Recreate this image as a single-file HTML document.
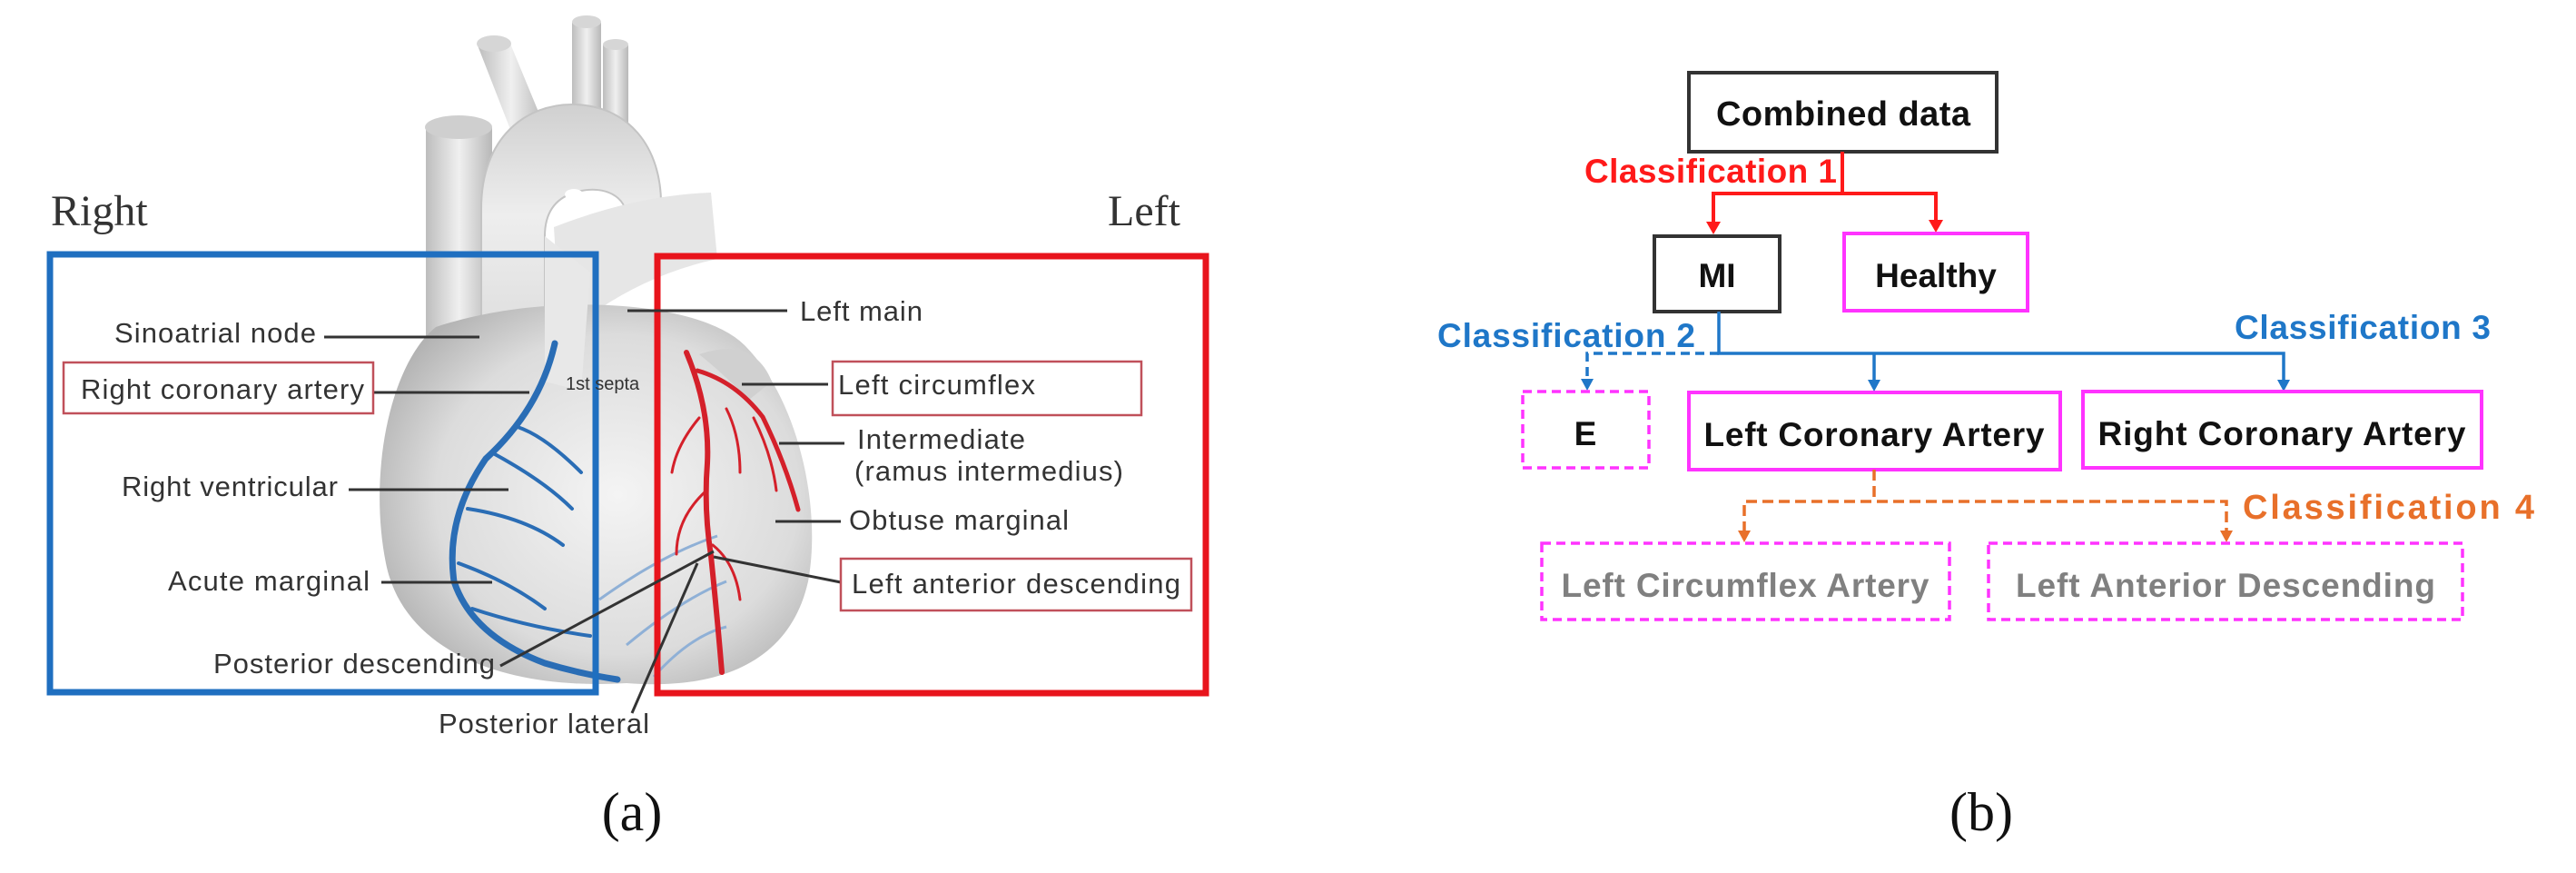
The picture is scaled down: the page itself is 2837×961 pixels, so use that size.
<!DOCTYPE html>
<html><head><meta charset="utf-8"><style>
html,body{margin:0;padding:0;background:#fff}
svg{display:block}
</style></head><body>
<svg width="2837" height="961" viewBox="0 0 2837 961" xmlns="http://www.w3.org/2000/svg">
<defs>
<radialGradient id="hg" cx="0.55" cy="0.5" r="0.6">
<stop offset="0" stop-color="#f4f4f4"/><stop offset="0.7" stop-color="#dcdcdc"/><stop offset="1" stop-color="#b3b3b3"/>
</radialGradient>
<linearGradient id="vg" x1="0" x2="1"><stop offset="0" stop-color="#bdbdbd"/><stop offset="0.5" stop-color="#f0f0f0"/><stop offset="1" stop-color="#b8b8b8"/></linearGradient>
<linearGradient id="ag" x1="0" x2="0" y1="0" y2="1"><stop offset="0" stop-color="#d0d0d0"/><stop offset="0.4" stop-color="#eeeeee"/><stop offset="1" stop-color="#d8d8d8"/></linearGradient>
</defs>
<rect width="2837" height="961" fill="#fff"/>

<!-- ===== Heart drawing (a) ===== -->
<g>
<!-- branches -->
<path d="M526 50 Q545 38 562 48 L600 140 L565 150 Z" fill="url(#vg)"/>
<ellipse cx="544" cy="48" rx="19" ry="9" fill="#d6d6d6"/>
<path d="M630 25 Q645 15 662 25 L662 130 L630 130 Z" fill="url(#vg)"/>
<ellipse cx="646" cy="24" rx="16" ry="7" fill="#d6d6d6"/>
<path d="M664 50 Q678 42 692 50 L692 140 L664 140 Z" fill="url(#vg)"/>
<ellipse cx="678" cy="49" rx="14" ry="6" fill="#d6d6d6"/>
<!-- SVC -->
<path d="M469 140 L469 380 L542 380 L542 140 Z" fill="url(#vg)"/>
<ellipse cx="505" cy="140" rx="37" ry="13" fill="#cfcfcf"/>
<!-- aorta -->
<path d="M530 420 L530 230 C530 150 580 115 630 115 C690 115 730 160 728 230 L728 300 L690 300 L690 240 C690 215 665 205 640 210 C615 215 600 230 600 260 L600 420 Z" fill="url(#ag)" stroke="#c4c4c4" stroke-width="2"/>
<ellipse cx="632" cy="214" rx="10" ry="6" fill="#fff"/>
<!-- pulmonary trunk -->
<path d="M610 250 Q700 215 783 212 L790 285 Q720 300 660 340 L615 330 Z" fill="#e6e6e6"/>
<!-- main body -->
<path d="M480 360 C430 400 405 520 425 620 C445 720 560 760 690 752 C790 760 870 730 890 640 C905 560 880 440 820 380 C770 330 600 320 480 360 Z" fill="url(#hg)"/>
<path d="M600 260 L600 420 L640 430 L650 300 Z" fill="#e8e8e8"/>
<path d="M770 390 Q830 370 850 420 L825 440 Q795 410 770 390Z" fill="#d0d0d0"/>
<!-- blue vessels -->
<g fill="none" stroke="#2a6db5" stroke-linecap="round">
<path d="M611 378 Q595 450 535 505 Q490 570 500 640 Q520 700 600 730 Q640 742 680 748" stroke-width="7"/>
<path d="M570 470 Q600 480 640 520 M545 500 Q600 530 630 560 M515 560 Q580 570 620 600 M505 620 Q560 640 600 670 M520 670 Q580 690 650 700" stroke-width="4"/>
</g>
<g fill="none" stroke="#8fb0d6" stroke-width="3">
<path d="M660 660 Q730 610 790 590 M690 710 Q750 660 800 640 M720 745 Q760 700 800 690"/>
</g>
<!-- red vessels -->
<g fill="none" stroke="#d4202a" stroke-linecap="round">
<path d="M756 388 Q782 450 779 510 Q775 560 783 612 Q790 680 795 740" stroke-width="6"/>
<path d="M768 408 Q810 420 840 459 Q865 510 879 561" stroke-width="5"/>
<path d="M770 460 Q745 490 740 520 M778 540 Q745 570 745 610 M785 600 Q810 620 815 660 M800 450 Q815 480 815 520 M830 460 Q850 500 855 540" stroke-width="3"/>
</g>
</g>

<!-- boxes -->
<rect x="55" y="280" width="601" height="482" fill="none" stroke="#1f6fc0" stroke-width="7"/>
<rect x="724" y="282" width="604" height="481" fill="none" stroke="#e8141c" stroke-width="7"/>
<text x="56" y="248" font-family="Liberation Serif, serif" font-size="48" fill="#333">Right</text>
<text x="1220" y="248" font-family="Liberation Serif, serif" font-size="48" fill="#333">Left</text>

<!-- label leader lines -->
<g stroke="#333" stroke-width="3" fill="none">
<line x1="357" y1="371" x2="528" y2="371"/>
<line x1="411" y1="432" x2="583" y2="432"/>
<line x1="384" y1="539" x2="560" y2="539"/>
<line x1="420" y1="641" x2="542" y2="641"/>
<line x1="551" y1="733" x2="786" y2="607"/>
<line x1="696" y1="785" x2="768" y2="620"/>
<line x1="691" y1="342" x2="867" y2="342"/>
<line x1="817" y1="423" x2="912" y2="423"/>
<line x1="858" y1="488" x2="930" y2="488"/>
<line x1="854" y1="574" x2="926" y2="574"/>
<line x1="786" y1="613" x2="926" y2="641"/>
</g>
<rect x="70" y="399" width="341" height="56" fill="none" stroke="#c0505a" stroke-width="2.5"/>
<rect x="917" y="398" width="340" height="59" fill="none" stroke="#c0505a" stroke-width="2.5"/>
<rect x="926" y="615" width="386" height="57" fill="none" stroke="#c0505a" stroke-width="2.5"/>
<g font-family="Liberation Sans, sans-serif" font-size="31" fill="#333">
<text x="126" y="377" textLength="222">Sinoatrial node</text>
<text x="89" y="439" textLength="312">Right coronary artery</text>
<text x="134" y="546" textLength="238">Right ventricular</text>
<text x="185" y="650" textLength="222">Acute marginal</text>
<text x="235" y="741" textLength="310">Posterior descending</text>
<text x="483" y="807" textLength="232">Posterior lateral</text>
<text x="881" y="353" textLength="135">Left main</text>
<text x="923" y="434" textLength="217">Left circumflex</text>
<text x="944" y="494" textLength="185">Intermediate</text>
<text x="941" y="529" textLength="296">(ramus intermedius)</text>
<text x="935" y="583" textLength="242">Obtuse marginal</text>
<text x="938" y="653" textLength="362">Left anterior descending</text>
<text x="623" y="429" font-size="20">1st septa</text>
</g>
<text x="696" y="914" text-anchor="middle" font-family="Liberation Serif, serif" font-size="60" fill="#111">(a)</text>

<!-- ===== Flow chart (b) ===== -->
<g font-family="Liberation Sans, sans-serif" font-weight="bold">
<rect x="1860" y="80" width="339" height="87" fill="none" stroke="#333" stroke-width="4"/>
<text x="2030" y="138" text-anchor="middle" font-size="38" fill="#111" textLength="280">Combined data</text>
<text x="1745" y="201" font-size="37" fill="#ff1a1a" textLength="278">Classification 1</text>
<g stroke="#ff1a1a" stroke-width="4" fill="none">
<polyline points="2029,167 2029,213 1887,213 1887,248"/>
<polyline points="2029,213 2132,213 2132,246"/>
</g>
<polygon points="1879,244 1895,244 1887,258" fill="#ff1a1a"/>
<polygon points="2124,242 2140,242 2132,256" fill="#ff1a1a"/>
<rect x="1822" y="260" width="138" height="83" fill="none" stroke="#333" stroke-width="4"/>
<text x="1891" y="316" text-anchor="middle" font-size="37" fill="#111">MI</text>
<rect x="2031" y="257" width="202" height="85" fill="none" stroke="#ff33ff" stroke-width="4"/>
<text x="2132" y="316" text-anchor="middle" font-size="37" fill="#111">Healthy</text>
<text x="1583" y="382" font-size="37" fill="#1f77c8" textLength="284">Classification 2</text>
<text x="2461" y="373" font-size="37" fill="#1f77c8" textLength="282">Classification 3</text>
<g stroke="#1f77c8" stroke-width="3.5" fill="none">
<polyline points="1893,343 1893,389 2515,389 2515,420"/>
<line x1="2064" y1="389" x2="2064" y2="420"/>
<polyline points="1893,389 1748,389 1748,420" stroke-dasharray="10,6"/>
</g>
<polygon points="1741,417 1755,417 1748,430" fill="#1f77c8"/>
<polygon points="2057,418 2071,418 2064,431" fill="#1f77c8"/>
<polygon points="2508,418 2522,418 2515,431" fill="#1f77c8"/>
<rect x="1677" y="431" width="139" height="84" fill="none" stroke="#ff33ff" stroke-width="3.5" stroke-dasharray="10,6"/>
<text x="1746" y="490" text-anchor="middle" font-size="37" fill="#111">E</text>
<rect x="1860" y="432" width="409" height="85" fill="none" stroke="#ff33ff" stroke-width="4"/>
<text x="2064" y="491" text-anchor="middle" font-size="37" fill="#111" textLength="375">Left Coronary Artery</text>
<rect x="2294" y="431" width="439" height="84" fill="none" stroke="#ff33ff" stroke-width="4"/>
<text x="2513" y="490" text-anchor="middle" font-size="37" fill="#111" textLength="405">Right Coronary Artery</text>
<g stroke="#e8702a" stroke-width="3.5" fill="none" stroke-dasharray="12,6">
<polyline points="2064,517 2064,552"/>
<polyline points="1921,586 1921,552 2452,552 2452,586"/>
</g>
<polygon points="1914,584 1928,584 1921,597" fill="#e8702a"/>
<polygon points="2445,584 2459,584 2452,597" fill="#e8702a"/>
<text x="2470" y="571" font-size="38" fill="#e8702a" textLength="321">Classification 4</text>
<rect x="1698" y="598" width="449" height="84" fill="none" stroke="#ff33ff" stroke-width="3.5" stroke-dasharray="10,6"/>
<text x="1922" y="657" text-anchor="middle" font-size="37" fill="#808080" textLength="405">Left Circumflex Artery</text>
<rect x="2190" y="598" width="522" height="84" fill="none" stroke="#ff33ff" stroke-width="3.5" stroke-dasharray="10,6"/>
<text x="2451" y="657" text-anchor="middle" font-size="37" fill="#808080" textLength="462">Left Anterior Descending</text>
</g>
<text x="2182" y="914" text-anchor="middle" font-family="Liberation Serif, serif" font-size="60" fill="#111">(b)</text>
</svg>
</body></html>
